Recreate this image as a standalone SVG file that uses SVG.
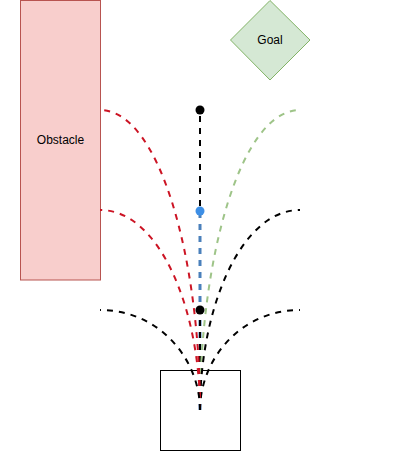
<svg xmlns="http://www.w3.org/2000/svg" width="402" height="460" viewBox="0 0 402 460">
<style>
.lbl{font-family:"Liberation Sans",Arial,sans-serif;font-size:12px;fill:#000;text-anchor:middle;dominant-baseline:central}
.c{fill:none;stroke-width:2;stroke-dasharray:6 6}
.red{stroke:#cc1424}
.blk{stroke:#000}
.grn{stroke:#9ec488}
.blu{stroke:#4a80bb;stroke-width:3}
</style>
<rect width="402" height="460" fill="#fff"/>
<g id="obstacle">
<rect x="20.5" y="0.5" width="80" height="279.5" fill="#f8cecc" stroke="#b85450"/>
<text class="lbl" x="60.5" y="140">Obstacle</text>
</g>
<g id="goal">
<polygon points="270,0.5 310,40 270,80 230.5,40" fill="#d5e8d4" stroke="#82b366"/>
<text class="lbl" x="270" y="40">Goal</text>
</g>
<g id="robot">
<rect x="160.5" y="370.5" width="80" height="80" fill="#fff" stroke="#000"/>
</g>
<g id="connectors">
<path class="c blk" d="M200,410 V114"/>
<path class="c blu" d="M200,410 V214"/>
<path class="c blk" d="M200,410 V314"/>
<path class="c grn" d="M200,410 C200,260 240,110 300,110"/>
<path class="c blk" d="M200,410 C200,310 240,210 300,210"/>
<path class="c blk" d="M200,410 C200,360 240,310 300,310"/>
<path class="c red" d="M200,410 C200,260 160,110 100,110"/>
<path class="c red" d="M200,410 C200,310 160,210 100,210"/>
<path class="c blk" d="M200,410 C200,360 160,310 100,310"/>
</g>
<g id="dots">
<circle cx="200" cy="110" r="4.5" fill="#000"/>
<circle cx="200" cy="211" r="4.5" fill="#3d8fe6"/>
<circle cx="200" cy="310" r="4.5" fill="#000"/>
</g>
</svg>
